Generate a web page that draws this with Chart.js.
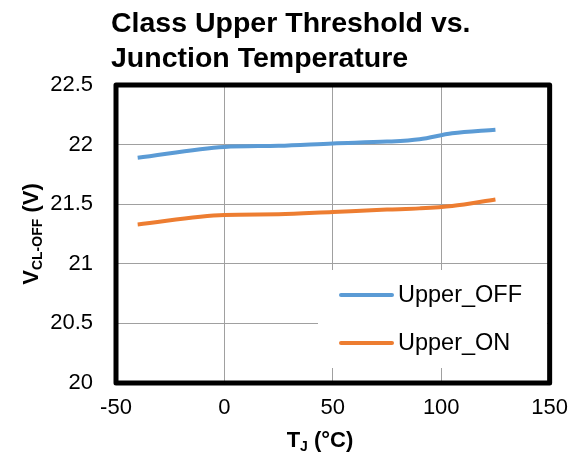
<!DOCTYPE html>
<html>
<head>
<meta charset="utf-8">
<script src="https://cdn.jsdelivr.net/npm/chart.js@4/dist/chart.umd.min.js"></script>
<style>
  html, body { margin: 0; padding: 0; background: #fff; }
  #wrap { width: 580px; height: 455px; }
</style>
</head>
<body>
<div id="wrap"><canvas id="grafico" width="580" height="455"></canvas></div>
<script>
// dados
const temps = [-40, 0, 25, 50, 75, 90, 105, 125]
const upperOff = [21.89, 21.98, 21.99, 22.01, 22.025, 22.045, 22.095, 22.125]
const upperOn = [21.33, 21.41, 21.415, 21.435, 21.455, 21.465, 21.485, 21.54]
const seriesNames = ["Upper_OFF", "Upper_ON"]
const seriesColors = ["#5b9bd5", "#ed7d31"]
const xTickVals = [-50, 0, 50, 100, 150]
const yTickVals = [20, 20.5, 21, 21.5, 22, 22.5]
const titleLines = ["Class Upper Threshold vs.", "Junction Temperature"]

const FONT = "'Liberation Sans', Arial, sans-serif"

const toPoints = (xs, ys) => xs.map((x, i) => ({ x: x, y: ys[i] }))

// titulo, eixos, legenda e moldura desenhados a mão
const extras = {
  id: "extras",
  afterDatasetsDraw(chart) {
    const ctx = chart.ctx
    const a = chart.chartArea
    ctx.save()
    // caixa da legenda
    ctx.fillStyle = "#fff"
    ctx.fillRect(318, 270, 229, 98)
    const ys = [295, 343]
    seriesNames.forEach((nome, i) => {
      ctx.strokeStyle = seriesColors[i]
      ctx.lineWidth = 4
      ctx.lineCap = "round"
      ctx.beginPath()
      ctx.moveTo(341, ys[i])
      ctx.lineTo(392, ys[i])
      ctx.stroke()
      ctx.fillStyle = "#000"
      ctx.font = "23.5px " + FONT
      ctx.textBaseline = "middle"
      ctx.textAlign = "left"
      ctx.fillText(nome, 398, ys[i] + 1)
    })
    // moldura
    ctx.strokeStyle = "#000"
    ctx.lineWidth = 5
    ctx.lineJoin = "round"
    ctx.strokeRect(a.left, a.top, a.right - a.left, a.bottom - a.top)
    ctx.restore()
  },
  afterDraw(chart) {
    const ctx = chart.ctx
    const a = chart.chartArea
    ctx.save()
    ctx.fillStyle = "#000"
    ctx.textAlign = "left"
    ctx.textBaseline = "alphabetic"
    ctx.font = "bold 28.5px " + FONT
    ctx.fillText(titleLines[0], 111, 32)
    ctx.fillText(titleLines[1], 111, 67)

    // titulo eixo x: T_J (°C)
    const big = "bold 22px " + FONT
    const sub = "bold 14px " + FONT
    ctx.font = big
    const wT = ctx.measureText("T").width
    const wR = ctx.measureText(" (°C)").width
    ctx.font = sub
    const wJ = ctx.measureText("J").width
    let x = 320 - (wT + wJ + wR) / 2
    const yb = 447
    ctx.font = big
    ctx.fillText("T", x, yb)
    x += wT
    ctx.font = sub
    ctx.fillText("J", x, yb + 4)
    x += wJ
    ctx.font = big
    ctx.fillText(" (°C)", x, yb)

    // titulo eixo y: V_CL-OFF (V)
    ctx.font = big
    const wV = ctx.measureText("V").width
    const wP = ctx.measureText(" (V)").width
    ctx.font = sub
    const wS = ctx.measureText("CL-OFF").width
    ctx.translate(38, (a.top + a.bottom) / 2)
    ctx.rotate(-Math.PI / 2)
    let p = -(wV + wS + wP) / 2
    ctx.font = big
    ctx.fillText("V", p, 0)
    p += wV
    ctx.font = sub
    ctx.fillText("CL-OFF", p, 4)
    p += wS
    ctx.font = big
    ctx.fillText(" (V)", p, 0)
    ctx.restore()
  }
}

const ctx = document.getElementById("grafico")
new Chart(ctx, {
  type: "line",
  data: {
    datasets: [
      {
        label: seriesNames[0],
        data: toPoints(temps, upperOff),
        borderColor: seriesColors[0],
        borderWidth: 4,
        pointRadius: 0,
        cubicInterpolationMode: "monotone",
        fill: false
      },
      {
        label: seriesNames[1],
        data: toPoints(temps, upperOn),
        borderColor: seriesColors[1],
        borderWidth: 4,
        pointRadius: 0,
        cubicInterpolationMode: "monotone",
        fill: false
      }
    ]
  },
  options: {
    responsive: false,
    animation: false,
    devicePixelRatio: 1,
    layout: { padding: { top: 85, right: 28, left: 0, bottom: 0 } },
    plugins: {
      legend: { display: false },
      title: { display: false },
      tooltip: { enabled: false }
    },
    scales: {
      x: {
        type: "linear",
        min: -50,
        max: 150,
        afterBuildTicks: s => { s.ticks = xTickVals.map(v => ({ value: v })) },
        afterFit: s => { s.height = 72 },
        grid: { color: "#a0a0a0", lineWidth: 1, drawTicks: false },
        border: { display: false },
        ticks: {
          padding: 12,
          color: "#000",
          font: { family: FONT, size: 22 },
          maxRotation: 0,
          callback: v => String(v)
        }
      },
      y: {
        min: 20,
        max: 22.5,
        afterBuildTicks: s => { s.ticks = yTickVals.map(v => ({ value: v })) },
        afterFit: s => { s.width = 116 },
        grid: { color: "#a0a0a0", lineWidth: 1, drawTicks: false },
        border: { display: false },
        ticks: {
          padding: 23,
          color: "#000",
          font: { family: FONT, size: 22 },
          callback: v => String(v)
        }
      }
    }
  },
  plugins: [extras]
})
</script>
</body>
</html>
